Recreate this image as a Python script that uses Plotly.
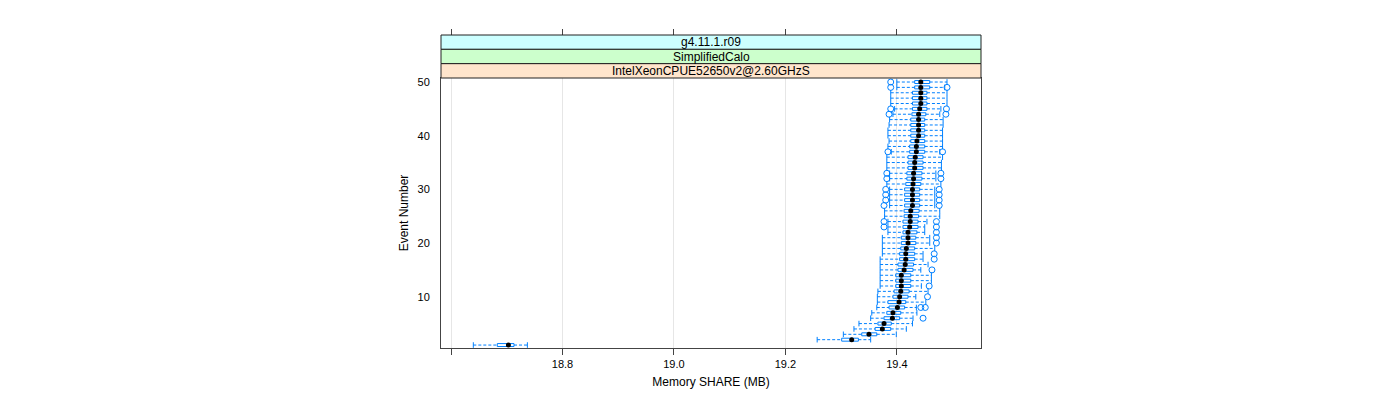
import plotly.graph_objects as go

events = list(range(1, 51))

whisker_lo = [18.640, 19.257, 19.304, 19.323, 19.332, 19.353, 19.355, 19.364, 19.365, 19.365,
              19.366, 19.370, 19.370, 19.370, 19.370, 19.370, 19.370, 19.374, 19.374, 19.374,
              19.374, 19.384, 19.384, 19.384, 19.378, 19.378, 19.387, 19.387, 19.387, 19.387,
              19.382, 19.387, 19.387, 19.382, 19.382, 19.382, 19.390, 19.384, 19.386, 19.384,
              19.384, 19.386, 19.387, 19.393, 19.396, 19.389, 19.389, 19.389, 19.400, 19.400]
q1 = [18.683, 19.301, 19.337, 19.361, 19.366, 19.377, 19.382, 19.386, 19.384, 19.393,
      19.395, 19.398, 19.398, 19.398, 19.402, 19.402, 19.405, 19.405, 19.407, 19.408,
      19.408, 19.411, 19.411, 19.411, 19.413, 19.413, 19.414, 19.414, 19.414, 19.414,
      19.416, 19.418, 19.418, 19.420, 19.420, 19.420, 19.423, 19.423, 19.425, 19.425,
      19.425, 19.425, 19.425, 19.427, 19.428, 19.428, 19.428, 19.428, 19.432, 19.432]
median = [18.703, 19.319, 19.350, 19.374, 19.377, 19.392, 19.393, 19.401, 19.404, 19.405,
          19.407, 19.408, 19.408, 19.408, 19.413, 19.415, 19.416, 19.416, 19.417, 19.420,
          19.420, 19.420, 19.423, 19.424, 19.424, 19.425, 19.428, 19.428, 19.428, 19.428,
          19.429, 19.430, 19.430, 19.432, 19.432, 19.433, 19.435, 19.435, 19.436, 19.439,
          19.439, 19.439, 19.439, 19.439, 19.441, 19.443, 19.443, 19.443, 19.443, 19.443]
q3 = [18.713, 19.331, 19.364, 19.389, 19.390, 19.405, 19.407, 19.414, 19.416, 19.420,
      19.422, 19.425, 19.425, 19.425, 19.429, 19.430, 19.432, 19.432, 19.432, 19.434,
      19.434, 19.436, 19.438, 19.438, 19.439, 19.440, 19.441, 19.441, 19.441, 19.441,
      19.443, 19.445, 19.445, 19.447, 19.447, 19.447, 19.450, 19.450, 19.450, 19.450,
      19.450, 19.450, 19.450, 19.452, 19.454, 19.454, 19.454, 19.454, 19.459, 19.459]
whisker_hi = [18.737, 19.353, 19.399, 19.417, 19.428, 19.429, 19.436, 19.435, 19.452, 19.434,
              19.456, 19.444, 19.462, 19.462, 19.443, 19.456, 19.447, 19.447, 19.468, 19.459,
              19.459, 19.450, 19.450, 19.454, 19.477, 19.477, 19.468, 19.468, 19.468, 19.468,
              19.479, 19.470, 19.470, 19.480, 19.480, 19.482, 19.477, 19.482, 19.482, 19.482,
              19.482, 19.483, 19.483, 19.477, 19.479, 19.490, 19.490, 19.490, 19.486, 19.490]

outlier_event = [6, 8, 8, 10, 12, 15, 17, 18, 20, 21, 22, 23, 23, 24, 24, 27, 27, 28, 28,
                 29, 29, 30, 30, 32, 32, 33, 33, 37, 37, 44, 44, 45, 45, 49, 49, 50]
outlier_value = [19.447, 19.443, 19.451, 19.455, 19.458, 19.463, 19.467, 19.467, 19.471, 19.471,
                 19.471, 19.377, 19.471, 19.377, 19.471, 19.377, 19.476, 19.380, 19.476,
                 19.380, 19.476, 19.380, 19.476, 19.382, 19.479, 19.382, 19.479, 19.384, 19.482,
                 19.386, 19.488, 19.389, 19.489, 19.389, 19.490, 19.389]

x_ticks = [18.6, 18.8, 19.0, 19.2, 19.4]
x_tick_text = ["", "18.8", "19.0", "19.2", "19.4"]
y_ticks = [10, 20, 30, 40, 50]
strip_labels = ["g4.11.1.r09", "SimplifiedCalo", "IntelXeonCPUE52650v2@2.60GHzS"]
strip_colors = ["#ccffff", "#ccffcc", "#ffe5cc"]

BLUE = "#0080ff"
FONT = "Liberation Sans, Arial, sans-serif"
X_RANGE = [18.582, 19.551]
Y_RANGE = [0.45, 50.75]

fig = go.Figure()

# dashed whiskers
wx, wy = [], []
for e, lo, a, b, hi in zip(events, whisker_lo, q1, q3, whisker_hi):
    wx += [lo, a, None, b, hi, None]
    wy += [e, e, None, e, e, None]
fig.add_trace(go.Scatter(x=wx, y=wy, mode="lines",
                         line=dict(color=BLUE, width=1, dash="3px,2px"),
                         hoverinfo="skip", showlegend=False))

# whisker caps
fig.add_trace(go.Scatter(x=whisker_lo + whisker_hi, y=events + events, mode="markers",
                         marker=dict(symbol="line-ns-open", size=4, color=BLUE,
                                     line=dict(color=BLUE, width=1)),
                         hoverinfo="skip", showlegend=False))

# boxes
fig.add_trace(go.Bar(orientation="h", y=events,
                     x=[b - a for a, b in zip(q1, q3)], base=q1, width=0.55,
                     marker=dict(color="rgba(0,0,0,0)", line=dict(color=BLUE, width=1)),
                     hoverinfo="skip", showlegend=False))

# outliers
fig.add_trace(go.Scatter(x=outlier_value, y=outlier_event, mode="markers",
                         marker=dict(symbol="circle-open", size=6, color=BLUE,
                                     line=dict(color=BLUE, width=1)),
                         hoverinfo="skip", showlegend=False))

# medians
fig.add_trace(go.Scatter(x=median, y=events, mode="markers",
                         marker=dict(symbol="circle", size=5, color="black"),
                         hoverinfo="skip", showlegend=False))

# invisible trace for the top tick axis
fig.add_trace(go.Scatter(x=X_RANGE, y=[None, None], xaxis="x2", mode="markers",
                         showlegend=False, hoverinfo="skip"))

panel_h = 270
total_h = 313
strip_h = (total_h - panel_h) / 3.0
dom_top = panel_h / total_h

fig.update_layout(
    width=1400, height=400,
    margin=dict(l=441, r=419, t=35, b=52),
    paper_bgcolor="white", plot_bgcolor="white",
    font=dict(family=FONT, size=12, color="black"),
    barmode="overlay",
    xaxis=dict(range=X_RANGE, tickvals=x_ticks, ticktext=x_tick_text,
               ticks="outside", ticklen=6, tickcolor="#444", tickwidth=1,
               showgrid=True, gridcolor="#e6e6e6", gridwidth=1, zeroline=False,
               showline=True, linecolor="#444", linewidth=1, mirror=True,
               title=dict(text="Memory SHARE (MB)", standoff=8, font=dict(size=12)),
               tickfont=dict(size=11)),
    xaxis2=dict(range=X_RANGE, overlaying="x", side="top", anchor="free", position=1.0,
                tickvals=x_ticks, showticklabels=False, ticks="outside", ticklen=6,
                tickcolor="#444", showgrid=False, zeroline=False, showline=False),
    yaxis=dict(range=Y_RANGE, domain=[0, dom_top], tickvals=y_ticks,
               ticks="outside", ticklen=8, tickcolor="rgba(0,0,0,0)",
               showgrid=False, zeroline=False,
               showline=True, linecolor="#444", linewidth=1, mirror=True,
               title=dict(text="Event Number", standoff=6, font=dict(size=12)),
               tickfont=dict(size=11)),
)

shapes = []
annotations = []
for i, (lab, col) in enumerate(zip(strip_labels, strip_colors)):
    y1 = 1.0 - i * strip_h / total_h
    y0 = 1.0 - (i + 1) * strip_h / total_h
    shapes.append(dict(type="rect", xref="paper", yref="paper", x0=0, x1=1, y0=y0, y1=y1,
                       fillcolor=col, line=dict(color="#222", width=1), layer="above"))
    annotations.append(dict(text=lab, xref="paper", yref="paper", x=0.5, y=(y0 + y1) / 2,
                            showarrow=False, font=dict(size=12, family=FONT),
                            xanchor="center", yanchor="middle"))
fig.update_layout(shapes=shapes, annotations=annotations)

fig.write_html("out.html")
